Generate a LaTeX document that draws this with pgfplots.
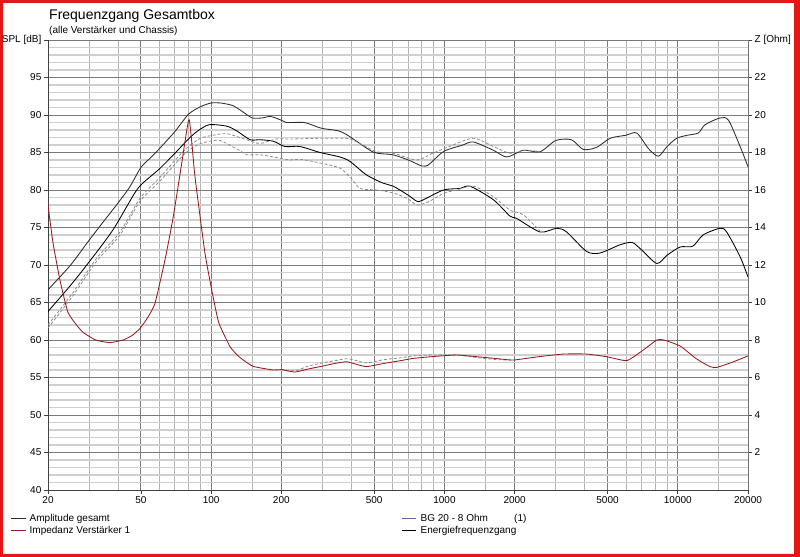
\documentclass[border=0pt]{standalone}
\usepackage{fontspec}
\setmainfont{Liberation Sans}
\usepackage{pgfplots}
\pgfplotsset{compat=1.18}
\definecolor{framered}{RGB}{228,22,22}
\definecolor{majgrid}{RGB}{122,122,122}
\definecolor{mingrid}{RGB}{207,207,207}
\definecolor{xmingrid}{RGB}{180,180,180}
\definecolor{imp}{RGB}{150,28,28}
\definecolor{bgblue}{RGB}{100,100,170}
\definecolor{ampgray}{RGB}{45,45,45}
\definecolor{dashgray}{RGB}{140,140,140}

\begin{document}
\begin{tikzpicture}[x=1bp,y=1bp]
\path[use as bounding box] (0,0) rectangle (800,557);
\fill[white] (0,0) rectangle (800,557);
\fill[framered, even odd rule] (0,0) rectangle (800,557) (3,3) rectangle (794,554);

\begin{axis}[
  at={(48bp,67bp)}, anchor=south west,
  scale only axis, width=700bp, height=450bp,
  xmode=log, log basis x=10,
  xmin=20, xmax=20000, ymin=40, ymax=100,
  xtick={20,50,100,200,500,1000,2000,5000,10000,20000},
  xticklabels={20,50,100,200,500,1000,2000,5000,10000,20000},
  minor xtick={30,40,60,70,80,90,150,300,400,600,700,800,900,1500,3000,4000,6000,7000,8000,9000,15000},
  ytick={40,45,...,100},
  yticklabels={40,45,50,55,60,65,70,75,80,85,90,95,SPL [dB]},
  minor y tick num=4,
  grid=both,
  major grid style={majgrid, line width=0.9bp},
  minor grid style={mingrid, line width=1.3bp},
  minor x grid style={xmingrid, line width=1bp},
  tick align=outside, major tick length=4bp, minor tick length=0bp,
  axis y line*=left, axis x line*=bottom,
  axis line style={black!75, line width=0.7bp},
  every tick/.style={black!75, line width=0.7bp},
  ticklabel style={font=\fontsize{10bp}{12bp}\selectfont},
  xticklabel style={inner sep=2.8bp},
  yticklabel style={inner sep=2.5bp},
]
% Amplitude gesamt (upper solid)
\addplot[ampgray, line width=0.85bp, smooth, tension=0.45] coordinates {
(20,66.7)(25,70.0)(30,73.3)(35,76.0)(40,78.3)(45,80.5)(50,83.0)(55,84.3)(60,85.5)
(70,87.8)(80,90.1)(90,91.1)(100,91.6)(110,91.6)(115,91.5)(125,91.2)(140,90.2)(150,89.6)
(165,89.6)(180,89.8)(200,89.3)(210,89.0)(250,89.0)(280,88.5)(300,88.2)(350,87.9)(380,87.4)
(420,86.5)(500,85.0)(600,84.7)(700,84.0)(800,83.2)(850,83.3)(900,84.0)(1000,85.2)(1200,86.0)
(1330,86.4)(1620,85.3)(1850,84.4)(2180,85.3)(2570,85.1)(3000,86.6)(3500,86.7)(3940,85.4)
(4500,85.7)(5130,86.9)(6000,87.3)(6670,87.6)(7500,85.5)(8260,84.5)(9000,85.8)(9900,86.9)
(11000,87.3)(12250,87.6)(13090,88.7)(15170,89.6)(16500,89.3)(18500,85.8)(20000,83.1)
};
% Energiefrequenzgang (lower solid)
\addplot[black, line width=0.85bp, smooth, tension=0.45] coordinates {
(20,63.8)(25,67.3)(30,70.4)(38,74.7)(48,80.0)(55,81.8)(60,82.8)(69,84.7)(80,86.8)(87,87.8)
(98,88.7)(117,88.5)(130,87.8)(147,86.7)(162,86.7)(185,86.5)(207,85.8)(240,85.8)(293,85.0)
(357,84.4)(394,83.8)(464,82.0)(547,80.9)(604,80.5)(700,79.3)(761,78.5)(800,78.6)(991,80.0)
(1167,80.2)(1288,80.5)(1621,78.7)(1913,76.5)(2042,76.2)(2571,74.4)(3030,74.9)(3340,74.4)
(4070,71.8)(4645,71.6)(5660,72.7)(6380,73.0)(7000,72.0)(8130,70.2)(9000,71.3)(10230,72.4)
(11600,72.5)(12830,74.0)(15170,74.9)(16200,74.4)(18500,71.1)(20000,68.4)
};
% dashed comparison curves
\addplot[dashgray, line width=0.8bp, dash pattern=on 3bp off 2bp, smooth, tension=0.45] coordinates {
(20,62.0)(25.7,66.4)(32.3,70.9)(40.7,74.4)(49.6,78.9)(60,81.6)(73.6,84.7)(81,85.9)(90,86.9)
(102,87.3)(117,87.5)(142,86.7)(162,86.2)(190,86.8)(220,86.8)(300,86.9)(357,86.9)(394,86.8)
(435,86.2)(512,85.1)(604,84.9)(761,84.0)(890,84.9)(1050,85.8)(1330,86.9)(1621,85.8)
(1913,84.9)(2200,85.3)(2570,85.1)
};
\addplot[dashgray, line width=0.8bp, dash pattern=on 3bp off 2bp, smooth, tension=0.45] coordinates {
(20,61.6)(25.7,66.0)(32.3,70.5)(40.7,74.0)(49.6,78.5)(60,81.1)(73.6,84.2)(81,85.4)(90,86.2)
(95,86.4)(109,86.6)(132,85.3)(142,84.7)(162,84.7)(185,84.4)(218,84.0)(240,84.1)(293,83.6)
(357,82.9)(400,81.5)(435,80.2)(512,80.0)(604,79.6)(700,78.8)(761,78.0)(850,78.4)(1000,79.6)
(1100,79.9)(1330,80.5)(1621,79.1)(1913,77.3)(2178,76.7)(2571,74.5)
};
\end{axis}

\begin{axis}[
  at={(48bp,67bp)}, anchor=south west,
  scale only axis, width=700bp, height=450bp,
  xmode=log, log basis x=10,
  xmin=20, xmax=20000, ymin=0, ymax=24,
  axis x line=none, axis y line*=right,
  ytick={2,4,6,8,10,12,14,16,18,20,22,24},
  yticklabels={2,4,6,8,10,12,14,16,18,20,22,Z [Ohm]},
  tick align=outside, major tick length=4bp,
  axis line style={black!55, line width=0.7bp},
  every tick/.style={black!75, line width=0.7bp},
  ticklabel style={font=\fontsize{10bp}{12bp}\selectfont},
  yticklabel style={inner sep=2.5bp},
]
% impedance comparison (dashed)
\addplot[dashgray, line width=0.8bp, dash pattern=on 3bp off 2bp, smooth, tension=0.45] coordinates {
(200,6.45)(228,6.35)(260,6.6)(293,6.75)(340,6.9)(381,7.0)(420,6.9)(464,6.78)(550,6.95)
(650,7.05)(736,7.15)(900,7.2)(1129,7.2)(1400,7.05)(1700,6.95)(1975,6.93)
};
% Impedanz Verstaerker 1
\addplot[imp, line width=0.85bp, smooth, tension=0.3] coordinates {
(20,15.2)(21,13.2)(22.5,11.2)(24.3,9.5)(26.5,8.8)(28.3,8.4)(32,8.0)(36.8,7.86)(42,8.0)
(46,8.25)(49.6,8.62)(53.5,9.2)(57.5,9.96)(63.5,12.3)(68.9,14.6)(74.8,17.4)(80.5,19.75)
(85.3,16.7)(94.2,12.6)(102,10.3)(108,8.9)(120.6,7.64)(132,7.1)(151,6.6)(185,6.4)(200,6.42)
(228,6.29)(260,6.45)(293,6.58)(340,6.75)(381,6.84)(420,6.7)(464,6.58)(550,6.75)(650,6.9)
(736,7.02)(900,7.12)(1129,7.2)(1400,7.1)(1700,7.0)(1975,6.93)(2500,7.1)(3234,7.25)
(4070,7.25)(5000,7.1)(6040,6.9)(7000,7.4)(8130,8.0)(8700,8.0)(10230,7.68)(12000,7.0)
(13730,6.58)(14700,6.54)(17000,6.8)(20000,7.15)
};
\end{axis}

% titles
\node[anchor=base west, inner sep=0, font=\fontsize{14bp}{16bp}\selectfont] at (49,537) {Frequenzgang Gesamtbox};
\node[anchor=base west, inner sep=0, font=\fontsize{10bp}{12bp}\selectfont] at (49,523.5) {(alle Verstärker und Chassis)};

% legend
\begin{scope}[font=\fontsize{10bp}{12bp}\selectfont]
\draw[ampgray, line width=0.85bp] (11,39) -- (26,39);
\node[anchor=base west, inner sep=0] at (29.5,35.3) {Amplitude gesamt};
\draw[imp, line width=0.85bp] (11,27) -- (26,27);
\node[anchor=base west, inner sep=0] at (29.5,23.7) {Impedanz Verstärker 1};
\draw[bgblue, line width=0.85bp] (402,39) -- (416,39);
\node[anchor=base west, inner sep=0] at (420.5,35.3) {BG 20 - 8 Ohm};
\node[anchor=base west, inner sep=0] at (514,35.3) {(1)};
\draw[black, line width=0.85bp] (402,27) -- (416,27);
\node[anchor=base west, inner sep=0] at (420.5,23.7) {Energiefrequenzgang};
\end{scope}
\end{tikzpicture}
\end{document}
